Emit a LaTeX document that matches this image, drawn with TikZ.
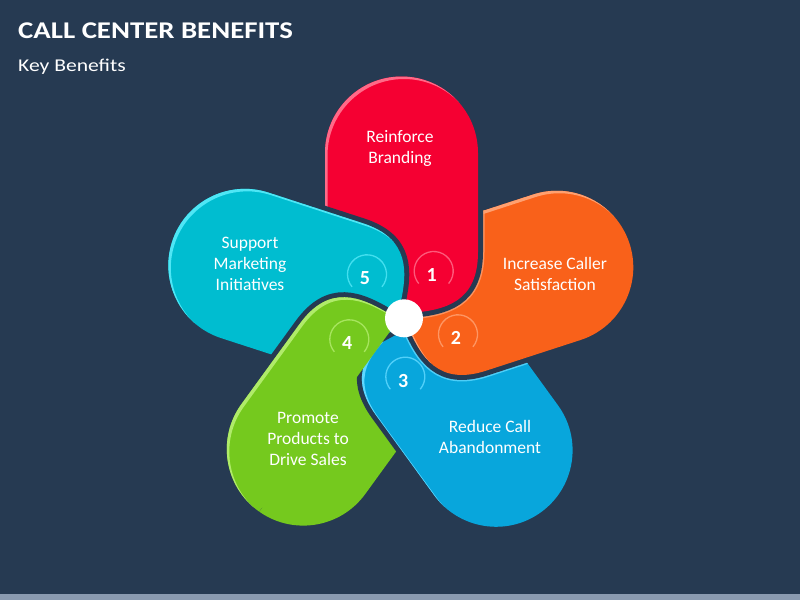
\documentclass[tikz,border=0pt]{standalone}
\usepackage{fontspec}
\setmainfont{Carlito}
\definecolor{bg}{HTML}{263A52}
\definecolor{strip}{HTML}{8A9AB0}
\definecolor{cRed}{HTML}{F50032}
\definecolor{lRed}{HTML}{FF6A88}
\definecolor{cOra}{HTML}{F9611A}
\definecolor{lOra}{HTML}{FFA070}
\definecolor{cBlu}{HTML}{08A6DC}
\definecolor{lBlu}{HTML}{5FD8FF}
\definecolor{cGre}{HTML}{75C91E}
\definecolor{lGre}{HTML}{B0EB6A}
\definecolor{cCya}{HTML}{00BDD0}
\definecolor{lCya}{HTML}{4FE6F5}
\newcommand\petalpath[1]{(10,4) .. controls (45,7) and (77.5,15) .. (77.5,65) -- (77.5,#1) arc[start angle=0,end angle=180,radius=76.5pt] -- (-75.5,60) -- (-8,-4) -- cycle}
% #1 rotation, #2 cap distance, #3 main colour, #4 rim colour
\newcommand\drawpetal[4]{%
  \draw[bg,line width=10pt,line join=round,shift={(400.5,317)},rotate=#1,y=1pt] \petalpath{#2};
  \fill[#3,shift={(400.5,317)},rotate=#1,y=1pt] \petalpath{#2};
  \begin{scope}[even odd rule]
    \clip[shift={(400.5,317)},rotate=#1,y=1pt] \petalpath{#2};
    \clip[shift={(403,319.5)},rotate=#1,y=1pt] (-1000,-1000) rectangle (1000,1000) \petalpath{#2};
    \fill[#4] (0,0) rectangle (800,600);
  \end{scope}}
% light line on the lower petal along the upper petal's outline
% #1 upper rotation, #2 lower rotation, #3 lower rim colour
\newcommand\glowedge[3]{%
  \begin{scope}
    \clip[shift={(400.5,317)},rotate=#2,y=1pt] \petalpath{164};
    \draw[#3,line width=13pt,line join=round,draw opacity=0.8,shift={(400.5,317)},rotate=#1,y=1pt] \petalpath{164};
  \end{scope}}
\tikzset{
  lbl/.style={text=white,align=center,inner sep=0pt,font=\fontsize{17.5}{21}\selectfont},
  num/.style={text=white,inner sep=0pt,font=\fontsize{20}{24}\selectfont\bfseries},
  ring/.style={draw=#1,line width=1.3pt,draw opacity=0.85}
}
\begin{document}
\begin{tikzpicture}[x=1pt,y=-1pt]
\fill[bg] (0,0) rectangle (800,600);
\useasboundingbox (0,0) rectangle (800,600);
\fill[strip] (0,594) rectangle (800,600);
\node[anchor=base west,text=white,inner sep=0pt,font=\fontsize{24}{28}\selectfont\bfseries] (title) at (18,38.3) {\scalebox{1.2}[1]{CALL CENTER BENEFITS}};
\node[anchor=base west,text=white,inner sep=0pt,font=\fontsize{18}{22}\selectfont] (subtitle) at (18,71) {\scalebox{1.2}[1]{Key Benefits}};
% petals (cyclic overlap)
\drawpetal{-216}{164}{cGre}{lGre}
\drawpetal{-144}{164}{cBlu}{lBlu}
\glowedge{-72}{-144}{lBlu}
\drawpetal{-72}{164}{cOra}{lOra}
\glowedge{0}{-72}{lOra}
\drawpetal{0}{164}{cRed}{lRed}
\drawpetal{72}{164}{cCya}{lCya}
\begin{scope}
  \clip[shift={(400.5,317)},rotate=-216,y=1pt] (0,-400) rectangle (400,400);
  \drawpetal{-216}{164}{cGre}{lGre}
\end{scope}
% numbers
\foreach \n/\x/\y/\c in {1/431.7/275/lRed,2/456/338.3/lOra,3/403.3/380.7/lBlu,4/347.3/343.3/lGre,5/365/278.3/lCya}{
  \node[num] (n\n) at (\x,\y) {\n};
  \draw[ring=\c] (n\n.center) ++(2,-4) ++(-40:19.5pt) arc[start angle=-40,end angle=220,radius=19.5pt];
}
\node[circle,fill=white,minimum size=38pt,inner sep=0pt] (hub) at (404,318.3) {};
% labels
\node[lbl] (t1) at (400,148.5) {Reinforce\\Branding};
\node[lbl] (t2) at (555,274) {Increase Caller\\Satisfaction};
\node[lbl] (t3) at (490,437) {Reduce Call\\Abandonment};
\node[lbl] (t4) at (308,438.5) {Promote\\Products to\\Drive Sales};
\node[lbl] (t5) at (250,263.5) {Support\\Marketing\\Initiatives};
\end{tikzpicture}
\end{document}
